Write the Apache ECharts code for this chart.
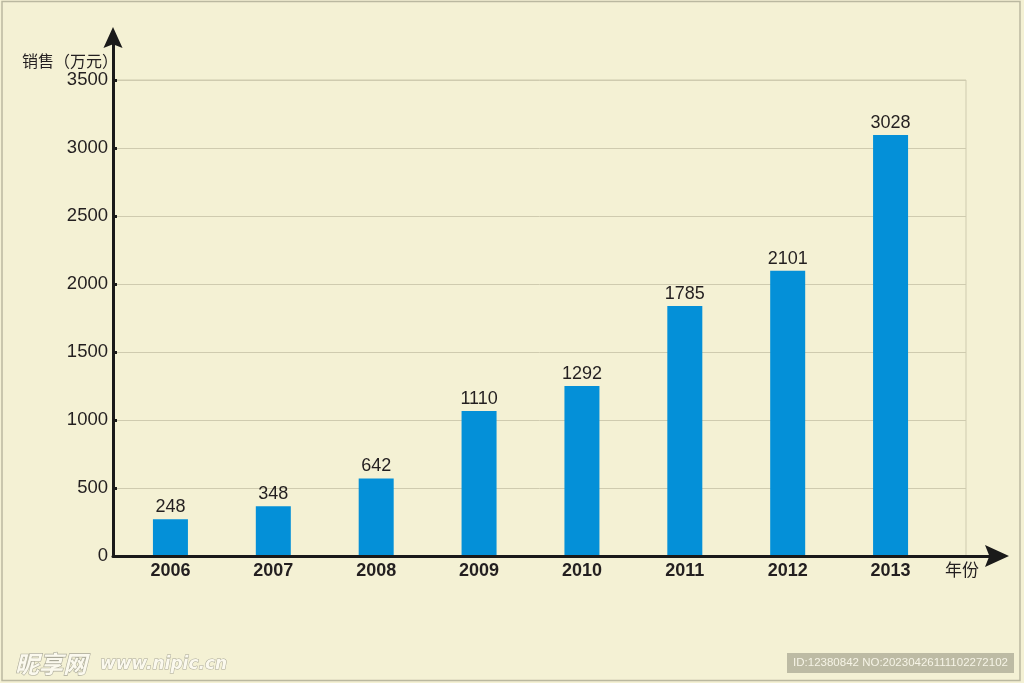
<!DOCTYPE html>
<html>
<head>
<meta charset="utf-8">
<script src="https://cdn.jsdelivr.net/npm/echarts@6/dist/echarts.min.js"></script>
<style>
html,body{margin:0;padding:0;background:#F4F1D4;}
#c{width:1024px;height:683px;}
</style>
</head>
<body>
<div id="c"></div>
<script>
// ---- data ----
const years = ['2006', '2007', '2008', '2009', '2010', '2011', '2012', '2013'];
// bar heights as drawn in the picture (万元)
const barHeights = [270, 365, 570, 1066, 1250, 1838, 2098, 3096];
// numbers printed above the bars
const printedValues = [248, 348, 642, 1110, 1292, 1785, 2101, 3028];
const yMin = 0, yMax = 3500, yStep = 500;
const yName = '销售（万元）';
const xName = '年份';

const numFont = '"Liberation Sans", Arial, sans-serif';
const cjkFont = '"Noto Sans CJK SC", sans-serif';
const arrowPath = 'path://M10,0 L20,22 L10,18 L0,22 Z';

const chart = echarts.init(document.getElementById('c'));
chart.setOption({
  backgroundColor: '#F4F1D4',
  animation: false,
  title: [
    { text: yName, left: 22, top: 53, padding: 0,
      textStyle: { fontFamily: cjkFont, fontSize: 16, fontWeight: 'normal', color: '#231f20' } },
    { text: xName, left: 945, top: 561, padding: 0,
      textStyle: { fontFamily: cjkFont, fontSize: 17, fontWeight: 'normal', color: '#231f20' } }
  ],
  grid: [
    // axes with arrows
    { left: 113, right: 27, top: 37.5, bottom: 127 },
    // gridlines, border, y labels
    { left: 113, right: 58, top: 80, bottom: 127, show: true, borderColor: '#CFCBAF', borderWidth: 1 },
    // bars and categories
    { left: 119, width: 823, top: 80, bottom: 127 }
  ],
  xAxis: [
    { gridIndex: 0, type: 'value', min: 0, max: 1, z: 5,
      axisLine: { show: true, lineStyle: { color: '#1a1a1a', width: 3 }, symbol: ['none', arrowPath], symbolSize: [23, 24] },
      axisTick: { show: false }, axisLabel: { show: false }, splitLine: { show: false } },
    { gridIndex: 1, type: 'value', min: 0, max: 1, show: false },
    { gridIndex: 2, type: 'category', data: years,
      axisLine: { show: false }, axisTick: { show: false }, splitLine: { show: false },
      axisLabel: { margin: 6, fontFamily: numFont, fontSize: 18, fontWeight: 'bold', color: '#231f20' } }
  ],
  yAxis: [
    { gridIndex: 0, type: 'value', min: 0, max: 1, z: 5,
      axisLine: { show: true, lineStyle: { color: '#1a1a1a', width: 3 }, symbol: ['none', arrowPath], symbolSize: [20, 21] },
      axisTick: { show: false }, axisLabel: { show: false }, splitLine: { show: false } },
    { gridIndex: 1, type: 'value', min: yMin, max: yMax, interval: yStep,
      axisLine: { show: false },
      axisTick: { show: true, inside: true, length: 4, lineStyle: { color: '#1a1a1a', width: 3 } },
      axisLabel: { margin: 5, fontFamily: numFont, fontSize: 18.5, color: '#231f20', padding: [4, 0, 0, 0],
        formatter: v => String(v) },
      splitLine: { show: true, lineStyle: { color: '#CFCBAF', width: 1 } } },
    { gridIndex: 2, type: 'value', min: yMin, max: yMax, show: false }
  ],
  series: [{
    type: 'bar',
    xAxisIndex: 2, yAxisIndex: 2,
    data: barHeights,
    barWidth: 35,
    itemStyle: { color: '#0490D8' },
    label: {
      show: true, position: 'top', distance: 3,
      fontFamily: numFont, fontSize: 18, color: '#231f20',
      formatter: p => String(printedValues[p.dataIndex])
    }
  }],
  graphic: [
    { type: 'rect', silent: true, z: 100,
      shape: { x: 2, y: 1.5, width: 1018, height: 679 },
      style: { fill: 'none', stroke: '#BAB8A0', lineWidth: 1.5 } },
    { type: 'rect', silent: true, z: 100,
      shape: { x: 787, y: 653, width: 227, height: 20 },
      style: { fill: '#BDBBA4' } },
    { type: 'text', silent: true, z: 101, x: 900.5, y: 663,
      style: { text: 'ID:12380842 NO:20230426111102272102', fill: '#F6F4E6', fontSize: 11.5,
        fontFamily: '"Liberation Sans", sans-serif', align: 'center', verticalAlign: 'middle' } },
    { type: 'text', silent: true, z: 101, x: 15, y: 664,
      style: { text: '昵享网', fill: '#FBF9EE', stroke: '#A9A898', lineWidth: 1.2, fontSize: 24,
        fontWeight: 'bold', fontStyle: 'italic', fontFamily: cjkFont, align: 'left', verticalAlign: 'middle' } },
    { type: 'text', silent: true, z: 101, x: 100, y: 665,
      style: { text: 'www.nipic.cn', fill: '#FBF9EE', stroke: '#A9A898', lineWidth: 1, fontSize: 17,
        fontWeight: 'bold', fontStyle: 'italic', fontFamily: '"DejaVu Sans", sans-serif', align: 'left', verticalAlign: 'middle' } }
  ]
});
</script>
</body>
</html>
